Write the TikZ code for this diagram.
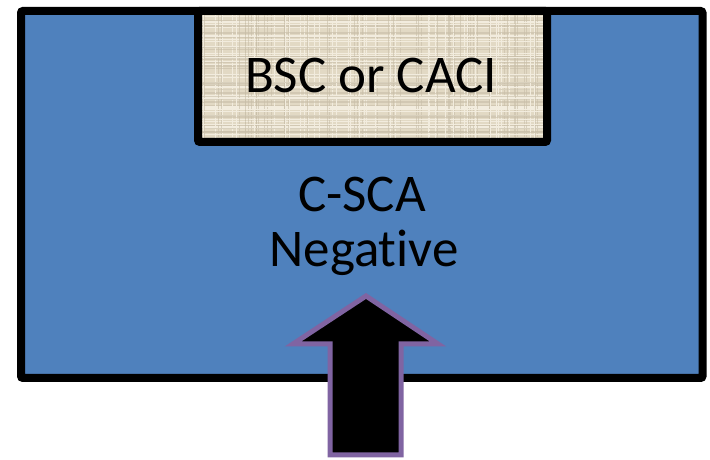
\documentclass[tikz,border=0pt]{standalone}
\usepackage{fontspec}
\setmainfont[Ligatures={NoCommon}]{Carlito}
\definecolor{boxblue}{HTML}{4F81BD}
\definecolor{arrowpurple}{HTML}{8064A2}
\definecolor{burlap}{RGB}{226,217,196}
\definecolor{burlapdark}{RGB}{200,190,168}
\definecolor{burlaplight}{RGB}{242,236,222}
\tikzset{
  outerbox/.style={draw=black, line width=8pt, fill=boxblue, rounded corners=2pt},
  innerbox/.style={draw=black, line width=8pt, rounded corners=2pt},
  bigtext/.style={font=\fontsize{53}{60}\selectfont, text=black, inner sep=0pt},
  bigarrow/.style={draw=arrowpurple, line width=5pt, fill=black, line join=miter},
}
\begin{document}
\begin{tikzpicture}[x=1pt,y=1pt]
\useasboundingbox (0,0) rectangle (710,460);
% outer blue box
\draw[outerbox] (21,82) rectangle (702.5,449);
% inner burlap box
\coordinate (ia) at (198,318);
\coordinate (ib) at (547,449);
\fill[burlap] (ia) rectangle (ib);
\begin{scope}
\clip (ia) rectangle (ib);
\pgfmathsetseed{7}
\foreach \i in {0,...,60}{
  \pgfmathsetmacro{\yy}{318+rnd*131}
  \pgfmathsetmacro{\xx}{198+rnd*349}
  \draw[burlaplight, line width=0.8pt] (198,\yy) -- (547,\yy);
  \draw[burlapdark, line width=0.5pt, opacity=0.6] (\xx,318) -- (\xx,449);
}
\foreach \i in {0,...,40}{
  \pgfmathsetmacro{\yy}{318+rnd*131}
  \pgfmathsetmacro{\xx}{198+rnd*349}
  \draw[burlapdark, line width=0.5pt, opacity=0.6] (198,\yy) -- (547,\yy);
  \draw[burlaplight, line width=0.8pt] (\xx,318) -- (\xx,449);
}
\end{scope}
\draw[innerbox] (ia) rectangle (ib);
% texts
\node[bigtext, anchor=base] (bsc) at (371,367) {BSC or CACI};
\node[bigtext, anchor=base] (csca) at (362,248) {C-SCA};
\node[bigtext, anchor=base] (neg) at (364,193) {Negative};
% arrow
\draw[bigarrow] (366,164) -- (438,116) -- (401,116) -- (401,5) -- (330,5) -- (330,116) -- (293,116) -- cycle;
\end{tikzpicture}
\end{document}
